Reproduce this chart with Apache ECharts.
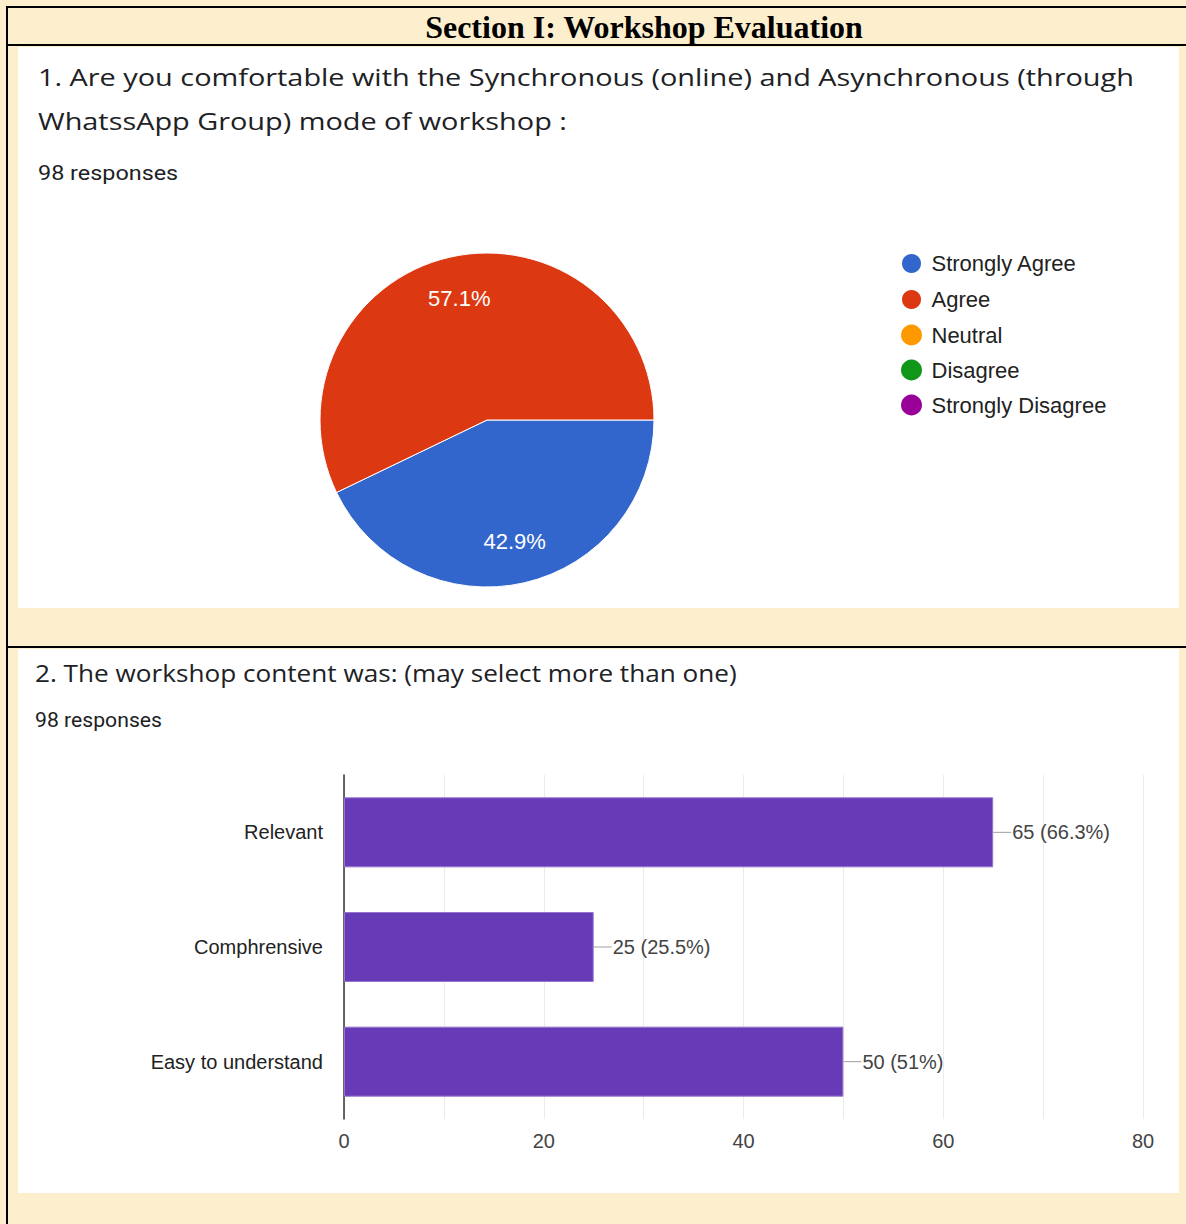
<!DOCTYPE html>
<html>
<head>
<meta charset="utf-8">
<script src="https://cdn.jsdelivr.net/npm/echarts@6/dist/echarts.min.js"></script>
<style>
html,body{margin:0;padding:0;background:#fdefcd;}
#chart{width:1186px;height:1224px;}
</style>
</head>
<body>
<div id="chart"></div>
<script>
// ---- Data ----
const sectionTitle = 'Section I: Workshop Evaluation';
const q1TitleLines = ['1. Are you comfortable with the Synchronous (online) and Asynchronous (through', 'WhatssApp Group) mode of workshop :'];
const q1Responses = '98 responses';
const pieCategories = ['Strongly Agree', 'Agree', 'Neutral', 'Disagree', 'Strongly Disagree'];
const pieValues = [42, 56, 0, 0, 0];
const pieColors = ['#3366cc', '#dc3912', '#ff9900', '#109618', '#990099'];

const q2Title = '2. The workshop content was: (may select more than one)';
const q2Responses = '98 responses';
const totalResponses = 98;
const barCategories = ['Relevant', 'Comphrensive', 'Easy to understand'];
const barValues = [65, 25, 50];
const xTickMax = 80;

// ---- Chart ----
const chart = echarts.init(document.getElementById('chart'), null, {renderer: 'svg', width: 1186, height: 1224});

const sansQ = '"Open Sans", sans-serif';
const sansC = '"Liberation Sans", Arial, sans-serif';

function pctText(v) {
  const p = Math.round(v / totalResponses * 1000) / 10;
  return (p % 1 === 0 ? p.toFixed(0) : p.toFixed(1)) + '%';
}
const pieTotal = pieValues.reduce((a, b) => a + b, 0);

const pieData = pieCategories.map((n, i) => ({
  name: n, value: pieValues[i],
  itemStyle: {color: pieColors[i], borderWidth: pieValues[i] > 0 ? 1 : 0}
}));

function txt(text, x, y, font, sx, align) {
  return {type: 'text', z: 3, x: x, y: y, scaleX: sx || 1,
    style: {text: text, x: 0, y: 0, align: align || 'left', verticalAlign: 'middle', font: font, fill: '#202124'}};
}

const option = {
  backgroundColor: '#fdefcd',
  animation: false,
  graphic: [
    // panels
    {type: 'rect', z: 0, shape: {x: 18, y: 47, width: 1161, height: 561}, style: {fill: '#ffffff'}},
    {type: 'rect', z: 0, shape: {x: 18, y: 649, width: 1161, height: 544}, style: {fill: '#ffffff'}},
    // table borders
    {type: 'rect', z: 1, shape: {x: 6, y: 6, width: 1180, height: 2}, style: {fill: '#000'}},
    {type: 'rect', z: 1, shape: {x: 6, y: 6, width: 2, height: 1218}, style: {fill: '#000'}},
    {type: 'rect', z: 1, shape: {x: 6, y: 44, width: 1180, height: 2}, style: {fill: '#000'}},
    {type: 'rect', z: 1, shape: {x: 6, y: 646, width: 1180, height: 2}, style: {fill: '#000'}},
    // texts
    {type: 'text', z: 3, x: 644, y: 27, style: {text: sectionTitle, x: 0, y: 0, align: 'center', verticalAlign: 'middle',
      font: 'bold 32px "Liberation Serif", "Times New Roman", serif', fill: '#000'}},
    txt(q1TitleLines[0], 38, 77, '24px ' + sansQ, 1.203),
    txt(q1TitleLines[1], 38, 121, '24px ' + sansQ, 1.203),
    txt(q1Responses, 38, 173, '20px Roboto, sans-serif', 1.17),
    txt(q2Title, 35, 672, '24px ' + sansQ, 1.09),
    txt(q2Responses, 35, 720, '20px Roboto, sans-serif', 1.06)
  ],
  legend: {
    orient: 'vertical',
    left: 895, top: 247,
    icon: 'circle',
    itemWidth: 26, itemHeight: 21,
    itemGap: 13,
    data: pieCategories,
    textStyle: {fontFamily: sansC, fontSize: 22, color: '#222', lineHeight: 21, padding: [0, 0, 0, 2]}
  },
  grid: {
    left: 344, top: 775, width: 799, height: 344,
    show: true, borderColor: '#ebebeb', borderWidth: 1, backgroundColor: 'transparent'
  },
  xAxis: {
    type: 'value', min: 0, max: xTickMax, interval: 10,
    axisLine: {show: false}, axisTick: {show: false},
    splitLine: {show: true, lineStyle: {color: '#ebebeb', width: 1}},
    axisLabel: {
      margin: 12, color: '#444', fontSize: 20, fontFamily: sansC,
      formatter: v => (v % 20 === 0 ? String(v) : '')
    }
  },
  yAxis: {
    type: 'category', inverse: true, data: barCategories,
    axisLine: {show: true, lineStyle: {color: '#333', width: 1.5}},
    axisTick: {show: false},
    axisLabel: {margin: 21, color: '#222', fontSize: 20, fontFamily: sansC}
  },
  series: [
    {
      type: 'pie',
      center: [487, 420], radius: [0, 167],
      startAngle: 0, clockwise: true,
      legendHoverLink: false,
      label: {show: false}, labelLine: {show: false},
      itemStyle: {borderColor: '#ffffff'},
      emphasis: {disabled: true},
      data: pieData
    },
    {
      type: 'pie',
      center: [487, 420], radius: [76, 167],
      startAngle: 0, clockwise: true,
      silent: true,
      itemStyle: {color: 'transparent', borderWidth: 0},
      labelLine: {show: false},
      label: {
        show: true, position: 'inside', color: '#ffffff', fontSize: 22, fontFamily: sansC,
        formatter: p => (p.value > 0 ? pctText(p.value * totalResponses / pieTotal) : '')
      },
      emphasis: {disabled: true},
      data: pieCategories.map((n, i) => ({name: n, value: pieValues[i], itemStyle: {color: 'transparent'}}))
    },
    {
      type: 'bar',
      data: barValues,
      barWidth: 70,
      itemStyle: {color: '#673ab7', borderColor: '#9575cd', borderWidth: 1},
      emphasis: {disabled: true},
      label: {
        show: true, position: 'right', distance: 0,
        formatter: p => '{l|}{t|' + p.value + ' (' + pctText(p.value) + ')}',
        rich: {
          l: {width: 18, height: 1, backgroundColor: '#9e9e9e'},
          t: {color: '#444', fontSize: 20, fontFamily: sansC, padding: [0, 0, 0, 1]}
        }
      }
    }
  ]
};
chart.setOption(option);
</script>
</body>
</html>
